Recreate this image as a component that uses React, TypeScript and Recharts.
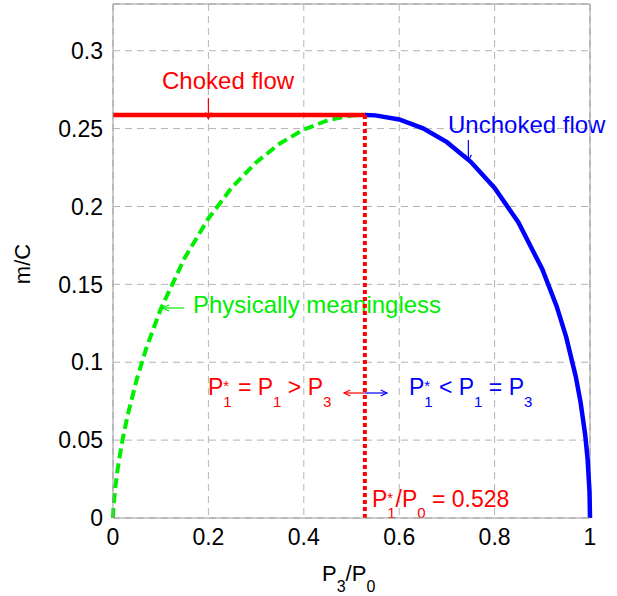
import { LineChart, Line, XAxis, YAxis, CartesianGrid, ReferenceLine } from 'recharts'

// pressure ratio P3/P0 and m/C
const ratioLow = [0, 0.001, 0.005, 0.01, 0.02, 0.03, 0.05, 0.07, 0.1, 0.15, 0.2, 0.25, 0.3, 0.35, 0.4, 0.45, 0.5, 0.528]
const flowLow = [0, 0.0067, 0.0201, 0.0319, 0.0502, 0.065, 0.0893, 0.1092, 0.1341, 0.1668, 0.1923, 0.2125, 0.2283, 0.2405, 0.2494, 0.2553, 0.2584, 0.2588]
const ratioHigh = [0.528, 0.55, 0.6, 0.65, 0.7, 0.75, 0.8, 0.85, 0.9, 0.93, 0.95, 0.97, 0.98, 0.99, 0.995, 0.999, 1]
const flowHigh = [0.2588, 0.2585, 0.2559, 0.2502, 0.2413, 0.2287, 0.2119, 0.1897, 0.1597, 0.136, 0.1163, 0.0911, 0.0748, 0.0532, 0.0377, 0.0169, 0]
const chokedRatio = 0.528
const chokedFlow = 0.2588

const xTicks = [0, 0.2, 0.4, 0.6, 0.8, 1]
const yTicks = [0, 0.05, 0.1, 0.15, 0.2, 0.25, 0.3]
const yMax = 0.33

const meaningless = ratioLow.map((x, i) => ({ x, y: flowLow[i] }))
const unchoked = ratioHigh.map((x, i) => ({ x, y: flowHigh[i] }))
const chokedLine = [{ x: 0, y: chokedFlow }, { x: chokedRatio, y: chokedFlow }]
const chokedMark = [{ x: chokedRatio, y: chokedFlow }, { x: chokedRatio, y: 0 }]

const W = 617
const H = 596
const M = { top: 4, right: 27, left: 0, bottom: 0 }
const Y_AXIS_W = 113
const X_AXIS_H = 78
const FONT = '"Liberation Sans", Arial, Helvetica, sans-serif'

// plot-area helpers for annotations
const plotW = W - Y_AXIS_W - M.right
const plotH = H - M.top - X_AXIS_H
const px = (v: number) => Y_AXIS_W + v * plotW
const py = (v: number) => M.top + plotH - (v / yMax) * plotH

function Arrow({ x1, y1, x2, y2, color }: { x1: number; y1: number; x2: number; y2: number; color: string }) {
    const a = Math.atan2(y2 - y1, x2 - x1)
    const l = 7
    const s = 0.45
    const h1 = [x2 - l * Math.cos(a - s), y2 - l * Math.sin(a - s)]
    const h2 = [x2 - l * Math.cos(a + s), y2 - l * Math.sin(a + s)]
    return (
        <g stroke={color} strokeWidth={1.2} fill="none">
            <line x1={x1} y1={y1} x2={x2} y2={y2} />
            <polyline points={`${h1[0]},${h1[1]} ${x2},${y2} ${h2[0]},${h2[1]}`} />
        </g>
    )
}

function Annotations() {
    const fs = 24
    const pfs = 23
    const sfs = 15
    return (
        <g fontFamily={FONT}>
            <text x={162} y={89} fill="#ff0000" fontSize={fs}>Choked flow</text>
            <Arrow x1={px(0.2)} y1={98} x2={px(0.2)} y2={py(chokedFlow) + 4} color="#ff0000" />

            <text x={448} y={133} fill="#0000ff" fontSize={fs}>Unchoked flow</text>
            <Arrow x1={px(0.745)} y1={140} x2={px(0.745)} y2={161} color="#0000ff" />

            <text x={193} y={313} fill="#00ee00" fontSize={fs}>Physically meaningless</text>
            <Arrow x1={184} y1={308} x2={px(0.1) + 2} y2={308} color="#00ee00" />

            <text x={208} y={395} fill="#ff0000" fontSize={pfs}>
                <tspan>P</tspan>
                <tspan dy={-4} fontSize={sfs}>*</tspan>
                <tspan dx={-6} dy={16} fontSize={sfs}>1</tspan>
                <tspan dy={-12}> = P</tspan>
                <tspan dy={12} fontSize={sfs}>1</tspan>
                <tspan dy={-12}> &gt; P</tspan>
                <tspan dy={12} fontSize={sfs}>3</tspan>
            </text>
            <Arrow x1={px(chokedRatio)} y1={393} x2={344} y2={393} color="#ff0000" />
            <Arrow x1={px(chokedRatio)} y1={393} x2={387} y2={393} color="#0000ff" />

            <text x={409} y={395} fill="#0000ff" fontSize={pfs}>
                <tspan>P</tspan>
                <tspan dy={-4} fontSize={sfs}>*</tspan>
                <tspan dx={-6} dy={16} fontSize={sfs}>1</tspan>
                <tspan dy={-12}> &lt; P</tspan>
                <tspan dy={12} fontSize={sfs}>1</tspan>
                <tspan dy={-12}> = P</tspan>
                <tspan dy={12} fontSize={sfs}>3</tspan>
            </text>

            <text x={372} y={507} fill="#ff0000" fontSize={pfs}>
                <tspan>P</tspan>
                <tspan dy={-4} fontSize={sfs}>*</tspan>
                <tspan dx={-6} dy={15} fontSize={sfs}>1</tspan>
                <tspan dy={-11}>/P</tspan>
                <tspan dy={11} fontSize={sfs}>0</tspan>
                <tspan dy={-11}> = 0.528</tspan>
            </text>

            <text x={30} y={264} fill="#000" fontSize={22} textAnchor="middle" transform="rotate(-90, 30, 264)">m/C</text>
            <text x={322} y={581} fill="#000" fontSize={22}>
                <tspan>P</tspan>
                <tspan dy={11} fontSize={16}>3</tspan>
                <tspan dy={-11}>/P</tspan>
                <tspan dy={11} fontSize={16}>0</tspan>
            </text>
        </g>
    )
}

export default function App() {
    const tickStyle = { fontSize: 23, fill: '#000', fontFamily: FONT }
    return (
        <div style={{ position: 'absolute', left: 0, top: 0, background: '#fff' }}>
            <LineChart width={W} height={H} margin={M}>
                <CartesianGrid stroke="#b4b4b4" strokeDasharray="7 5" />
                <XAxis
                    dataKey="x"
                    type="number"
                    domain={[0, 1]}
                    ticks={xTicks}
                    height={X_AXIS_H}
                    tick={tickStyle}
                    tickLine={false}
                    tickSize={0}
                    tickMargin={11}
                    axisLine={{ stroke: '#999' }}
                />
                <YAxis
                    dataKey="y"
                    type="number"
                    domain={[0, yMax]}
                    ticks={yTicks}
                    width={Y_AXIS_W}
                    tick={tickStyle}
                    tickLine={false}
                    tickSize={0}
                    tickMargin={10}
                    axisLine={{ stroke: '#999' }}
                />
                <ReferenceLine x={1} stroke="#999" />
                <ReferenceLine y={yMax} stroke="#999" />
                <Line data={meaningless} dataKey="y" stroke="#00ee00" strokeWidth={4} strokeDasharray="10 5" dot={false} isAnimationActive={false} />
                <Line data={unchoked} dataKey="y" stroke="#0000ff" strokeWidth={4.5} dot={false} isAnimationActive={false} />
                <Line data={chokedLine} dataKey="y" stroke="#ff0000" strokeWidth={4.5} dot={false} isAnimationActive={false} />
                <Line data={chokedMark} dataKey="y" stroke="#ff0000" strokeWidth={4} strokeDasharray="4 3" dot={false} isAnimationActive={false} />
                <Annotations />
            </LineChart>
        </div>
    )
}
